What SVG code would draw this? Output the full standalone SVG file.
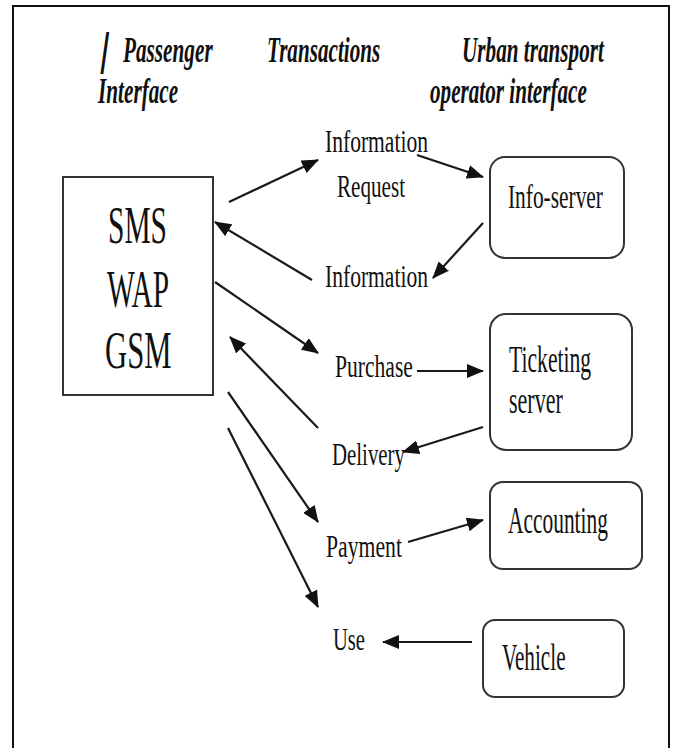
<svg xmlns="http://www.w3.org/2000/svg" width="673" height="748" viewBox="0 0 673 748">
  <style>
    text { font-family: "Liberation Serif", "Times New Roman", serif; fill: #111; }
    .hdr { font-weight: bold; font-style: italic; font-size: 36px; }
    .lbl { font-size: 32px; }
    .box-txt { font-size: 38px; }
    .big { font-size: 52px; }
    .server { fill: #fff; stroke: #333; stroke-width: 2; }
    .link { stroke: #1a1a1a; stroke-width: 2.2; fill: none; marker-end: url(#head); }
  </style>
  <defs>
    <marker id="head" markerUnits="userSpaceOnUse" markerWidth="17" markerHeight="14" refX="16" refY="7" orient="auto">
      <path d="M0,0 L17,7 L0,14 Z" fill="#111"/>
    </marker>
  </defs>

  <rect x="0" y="0" width="673" height="748" fill="#fff"/>
  <!-- outer frame, open past the bottom edge -->
  <rect x="13" y="6" width="656" height="770" fill="none" stroke="#111" stroke-width="2"/>

  <!-- column headings (condensed type) -->
  <g id="headings">
    <text class="hdr" transform="translate(99,64) skewX(-8) scale(0.9,1)" style="font-size:46px">|</text>
    <text class="hdr" transform="translate(123,62) scale(0.59,1)">Passenger</text>
    <text class="hdr" transform="translate(98,103) scale(0.59,1)">Interface</text>
    <text class="hdr" transform="translate(267,62) scale(0.588,1)">Transactions</text>
    <text class="hdr" transform="translate(462,62) scale(0.589,1)">Urban transport</text>
    <text class="hdr" transform="translate(430,103) scale(0.588,1)">operator interface</text>
  </g>

  <!-- passenger terminal -->
  <g id="terminal">
    <rect x="63" y="177" width="150" height="218" fill="#fff" stroke="#333" stroke-width="2"/>
    <text class="big" transform="translate(108,243) scale(0.567,1)">SMS</text>
    <text class="big" transform="translate(107,307) scale(0.565,1)">WAP</text>
    <text class="big" transform="translate(105,368) scale(0.59,1)">GSM</text>
  </g>

  <!-- transactions -->
  <g id="tx-request">
    <text class="lbl" transform="translate(325,152) scale(0.674,1)">Information</text>
    <text class="lbl" transform="translate(337,197) scale(0.66,1)">Request</text>
  </g>
  <g id="tx-information">
    <text class="lbl" transform="translate(325,287) scale(0.674,1)">Information</text>
  </g>
  <g id="tx-purchase">
    <text class="lbl" transform="translate(335,377) scale(0.675,1)">Purchase</text>
  </g>
  <g id="tx-delivery">
    <text class="lbl" transform="translate(332,465) scale(0.652,1)">Delivery</text>
  </g>
  <g id="tx-payment">
    <text class="lbl" transform="translate(326,557) scale(0.679,1)">Payment</text>
  </g>
  <g id="tx-use">
    <text class="lbl" transform="translate(333,650) scale(0.643,1)">Use</text>
  </g>

  <!-- operator side -->
  <g id="info-server">
    <rect class="server" x="490" y="157" width="134" height="101" rx="15"/>
    <text class="box-txt" transform="translate(508,208) scale(0.648,1)" style="font-size:33px">Info-server</text>
  </g>
  <g id="ticketing-server">
    <rect class="server" x="490" y="314" width="142" height="136" rx="16"/>
    <text class="box-txt" transform="translate(509,372) scale(0.57,1)">Ticketing</text>
    <text class="box-txt" transform="translate(509,413) scale(0.58,1)">server</text>
  </g>
  <g id="accounting">
    <rect class="server" x="490" y="482" width="152" height="87" rx="13"/>
    <text class="box-txt" transform="translate(508,533) scale(0.564,1)">Accounting</text>
  </g>
  <g id="vehicle">
    <rect class="server" x="483" y="620" width="141" height="77" rx="12"/>
    <text class="box-txt" transform="translate(502,670) scale(0.558,1)">Vehicle</text>
  </g>

  <!-- connectors -->
  <g id="connectors">
    <line class="link" x1="229" y1="202" x2="318" y2="160"/>
    <line class="link" x1="417" y1="155" x2="483" y2="177"/>
    <line class="link" x1="483" y1="223" x2="433" y2="278"/>
    <line class="link" x1="312" y1="280" x2="215" y2="222"/>
    <line class="link" x1="215" y1="282" x2="318" y2="353"/>
    <line class="link" x1="417" y1="371" x2="483" y2="371"/>
    <line class="link" x1="483" y1="427" x2="403" y2="452"/>
    <line class="link" x1="318" y1="428" x2="230" y2="337"/>
    <line class="link" x1="228" y1="392" x2="318" y2="522"/>
    <line class="link" x1="228" y1="428" x2="318" y2="607"/>
    <line class="link" x1="408" y1="542" x2="483" y2="520"/>
    <line class="link" x1="472" y1="642" x2="383" y2="642"/>
  </g>
</svg>
